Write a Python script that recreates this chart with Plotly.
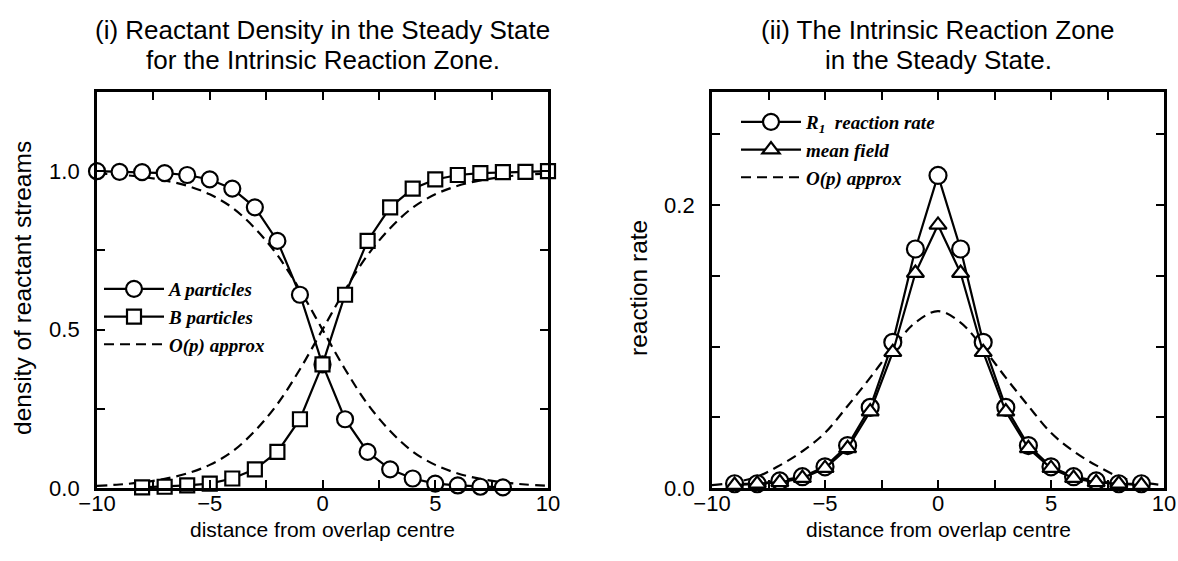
import plotly.graph_objects as go

# ---------------- data: left panel ----------------
x_a = [-10, -9, -8, -7, -6, -5, -4, -3, -2, -1, 0, 1, 2, 3, 4, 5, 6, 7, 8]
a_particles = [1.0, 0.998, 0.997, 0.994, 0.988, 0.974, 0.945, 0.886, 0.78, 0.61,
               0.39, 0.217, 0.114, 0.059, 0.03, 0.014, 0.008, 0.004, 0.002]
x_b = [-8, -7, -6, -5, -4, -3, -2, -1, 0, 1, 2, 3, 4, 5, 6, 7, 8, 9, 10]
b_particles = [0.002, 0.004, 0.008, 0.014, 0.03, 0.059, 0.114, 0.217, 0.39,
               0.61, 0.78, 0.886, 0.945, 0.974, 0.988, 0.994, 0.997, 0.998, 1.0]

x_approx = [-10, -9, -8, -7, -6, -5, -4, -3, -2, -1, 0, 1, 2, 3, 4, 5, 6, 7, 8, 9, 10]
a_approx = [0.993, 0.989, 0.982, 0.971, 0.954, 0.927, 0.885, 0.82, 0.735, 0.625, 0.5,
            0.375, 0.265, 0.18, 0.115, 0.073, 0.046, 0.029, 0.018, 0.011, 0.007]
b_approx = [0.007, 0.011, 0.018, 0.029, 0.046, 0.073, 0.115, 0.18, 0.265, 0.375, 0.5,
            0.625, 0.735, 0.82, 0.885, 0.927, 0.954, 0.971, 0.982, 0.989, 0.993]

# ---------------- data: right panel ----------------
x_rate = [-9, -8, -7, -6, -5, -4, -3, -2, -1, 0, 1, 2, 3, 4, 5, 6, 7, 8, 9]
r1_rate = [0.003, 0.003, 0.005, 0.008, 0.015, 0.030, 0.057, 0.103, 0.169, 0.221,
           0.169, 0.103, 0.057, 0.030, 0.015, 0.008, 0.005, 0.003, 0.003]
mean_field = [0.002, 0.003, 0.004, 0.007, 0.014, 0.028, 0.054, 0.096, 0.152, 0.186,
              0.152, 0.096, 0.054, 0.028, 0.014, 0.007, 0.004, 0.003, 0.002]
rate_approx = [0.002, 0.004, 0.008, 0.016, 0.026, 0.039, 0.058, 0.078, 0.099, 0.117, 0.125,
               0.117, 0.099, 0.078, 0.058, 0.039, 0.026, 0.016, 0.008, 0.004, 0.002]

# ---------------- labels ----------------
title_left = ["(i) Reactant Density in the Steady State", "for the Intrinsic Reaction Zone."]
title_right = ["(ii) The Intrinsic Reaction Zone", "in the Steady State."]
xlabel = "distance from overlap centre"
ylabel_left = "density of reactant streams"
ylabel_right = "reaction rate"

SANS = "Liberation Sans, Arial, sans-serif"
SERIF = "Liberation Serif, Times New Roman, serif"

fig = go.Figure()

dash_style = dict(color="black", width=2.2, dash="10px,6px")
dash_line = dict(dash_style, shape="spline")
solid_line = dict(color="black", width=2.2)
mline = dict(color="black", width=2.2)

# left panel
fig.add_trace(go.Scatter(x=x_approx, y=a_approx, mode="lines", line=dash_line,
                         showlegend=False, hoverinfo="skip", xaxis="x", yaxis="y"))
fig.add_trace(go.Scatter(x=x_approx, y=b_approx, mode="lines", line=dash_line,
                         showlegend=False, hoverinfo="skip", xaxis="x", yaxis="y"))
fig.add_trace(go.Scatter(x=x_a, y=a_particles, mode="lines+markers", line=solid_line,
                         marker=dict(symbol="circle", size=16, color="white", line=mline),
                         name="<b><i>A particles</i></b>", legend="legend",
                         cliponaxis=False, xaxis="x", yaxis="y"))
fig.add_trace(go.Scatter(x=x_b, y=b_particles, mode="lines+markers", line=solid_line,
                         marker=dict(symbol="square", size=14, color="white", line=mline),
                         name="<b><i>B particles</i></b>", legend="legend",
                         cliponaxis=False, xaxis="x", yaxis="y"))
fig.add_trace(go.Scatter(x=[None], y=[None], mode="lines", line=dash_style,
                         name="<b><i>O(p) approx</i></b>", legend="legend",
                         xaxis="x", yaxis="y"))

# right panel
fig.add_trace(go.Scatter(x=x_approx, y=rate_approx, mode="lines", line=dash_line,
                         showlegend=False, hoverinfo="skip", xaxis="x2", yaxis="y2"))
fig.add_trace(go.Scatter(x=x_rate, y=r1_rate, mode="lines+markers", line=solid_line,
                         marker=dict(symbol="circle", size=17, color="white", line=mline),
                         name="<b><i>R<sub>1</sub>  reaction rate</i></b>", legend="legend2",
                         cliponaxis=False, xaxis="x2", yaxis="y2"))
fig.add_trace(go.Scatter(x=x_rate, y=mean_field, mode="lines+markers", line=solid_line,
                         marker=dict(symbol="triangle-up", size=15, color="white", line=mline),
                         name="<b><i>mean field</i></b>", legend="legend2",
                         cliponaxis=False, xaxis="x2", yaxis="y2"))
fig.add_trace(go.Scatter(x=[None], y=[None], mode="lines", line=dash_style,
                         name="<b><i>O(p) approx</i></b>", legend="legend2",
                         xaxis="x2", yaxis="y2"))

W, H = 1178, 561
L0, L1, R0, R1 = 97, 548, 712, 1164
TOP, BOT = 92, 488
left_dom = [L0 / W, L1 / W]
right_dom = [R0 / W, R1 / W]
y_dom = [(H - BOT) / H, (H - TOP) / H]

minor_common = dict(ticks="inside", ticklen=8, tickwidth=1.5, tickcolor="black")
axis_common = dict(showline=True, linecolor="black", linewidth=2.8, mirror="ticks",
                   ticks="inside", ticklen=8, tickwidth=1.5, tickcolor="black",
                   showgrid=False, zeroline=False, automargin=False,
                   tickfont=dict(family=SANS, size=22, color="black"))

fig.update_layout(
    width=W, height=H,
    margin=dict(l=0, r=0, t=0, b=0, autoexpand=False),
    paper_bgcolor="white", plot_bgcolor="white",
    xaxis=dict(domain=left_dom, range=[-10, 10], dtick=5, tick0=0,
               minor=dict(dtick=2.5, **minor_common), ticklabelstandoff=-6,
               anchor="y", **axis_common),
    yaxis=dict(domain=y_dom, range=[0, 1.25], dtick=0.5, tick0=0, tickformat=".1f",
               minor=dict(dtick=0.25, **minor_common), ticklabelstandoff=10,
               anchor="x", **axis_common),
    xaxis2=dict(domain=right_dom, range=[-10, 10], dtick=5, tick0=0,
                minor=dict(dtick=2.5, **minor_common), ticklabelstandoff=-6,
                anchor="y2", **axis_common),
    yaxis2=dict(domain=y_dom, range=[0, 0.28], dtick=0.2, tick0=0, tickformat=".1f",
                minor=dict(dtick=0.05, **minor_common), ticklabelstandoff=10,
                anchor="x2", **axis_common),
    legend=dict(x=99 / W, y=1 - 270 / H, xanchor="left", yanchor="top",
                bgcolor="rgba(0,0,0,0)", tracegroupgap=0, itemwidth=60,
                font=dict(family=SERIF, size=19, color="black")),
    legend2=dict(x=736 / W, y=1 - 103 / H, xanchor="left", yanchor="top",
                 bgcolor="rgba(0,0,0,0)", tracegroupgap=0, itemwidth=60,
                 font=dict(family=SERIF, size=19, color="black")),
)

ann = []
for lines, cx in ((title_left, (L0 + L1) / 2), (title_right, (R0 + R1) / 2)):
    for i, t in enumerate(lines):
        ann.append(dict(text=t, x=cx / W, y=1 - (30 + 30 * i) / H, xref="paper", yref="paper",
                        xanchor="center", yanchor="middle", showarrow=False,
                        font=dict(family=SANS, size=26, color="black")))
for cx in ((L0 + L1) / 2, (R0 + R1) / 2):
    ann.append(dict(text=xlabel, x=cx / W, y=1 - 529 / H, xref="paper", yref="paper",
                    xanchor="center", yanchor="middle", showarrow=False,
                    font=dict(family=SANS, size=21, color="black")))
for t, cx in ((ylabel_left, 22), (ylabel_right, 638)):
    ann.append(dict(text=t, x=cx / W, y=1 - 288 / H, xref="paper", yref="paper",
                    xanchor="center", yanchor="middle", showarrow=False, textangle=-90,
                    font=dict(family=SANS, size=24.5, color="black")))
fig.update_layout(annotations=ann)

fig.write_html("out.html", config={"displayModeBar": False},
               post_script="document.body.style.margin='0px';")
